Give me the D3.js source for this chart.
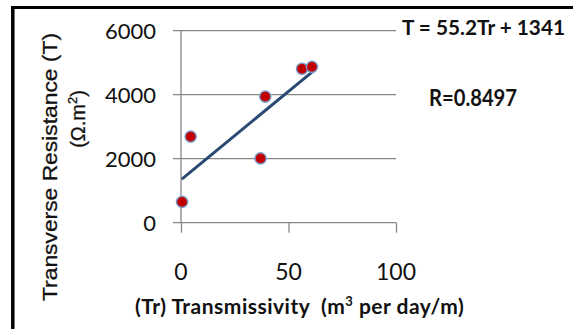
<!DOCTYPE html>
<html>
<head>
<meta charset="utf-8">
<script src="https://cdn.jsdelivr.net/npm/d3@7"></script>
<style>
  html, body { margin: 0; padding: 0; background: #fff; }
  svg { display: block; }
</style>
</head>
<body>
<svg id="chart" width="573" height="329"></svg>
<script>
// ---- data ----
const transmissivity = [0.5, 4.5, 37, 39.2, 56.3, 60.9];
const resistance = [650, 2690, 2010, 3940, 4810, 4870];
const xTicks = [0, 50, 100];
const yTicks = [0, 2000, 4000, 6000];
const slope = 55.2;
const intercept = 1341;
const equationText = "T = 55.2Tr + 1341";
const rText = "R=0.8497";

const svg = d3.select("#chart");

const x = d3.scaleLinear().domain([0, 100]).range([181, 396]);
const y = d3.scaleLinear().domain([0, 6000]).range([222.7, 30.7]);

// frame (left and top borders)
svg.append("line").attr("x1", 12.8).attr("x2", 12.8).attr("y1", 6).attr("y2", 329)
  .attr("stroke", "#000").attr("stroke-width", 3.5);
svg.append("line").attr("x1", 11).attr("x2", 573).attr("y1", 7.5).attr("y2", 7.5)
  .attr("stroke", "#000").attr("stroke-width", 3);

const gridColor = "#868686";

// horizontal gridlines (extend left as tick marks)
svg.append("g").selectAll("line").data(yTicks.filter(d => d !== 0)).join("line")
  .attr("x1", 173).attr("x2", 396)
  .attr("y1", d => y(d)).attr("y2", d => y(d))
  .attr("stroke", gridColor).attr("stroke-width", 1.3);

// x axis using d3 axis
const xAxis = d3.axisBottom(x).tickValues(xTicks).tickSize(10).tickFormat("");
const gx = svg.append("g").attr("transform", `translate(0,${y(0)})`).call(xAxis);
gx.select(".domain").remove();
gx.selectAll(".tick line").attr("stroke", gridColor).attr("stroke-width", 1.3);
svg.append("line").attr("x1", 173).attr("x2", 396).attr("y1", y(0)).attr("y2", y(0))
  .attr("stroke", gridColor).attr("stroke-width", 1.3);
// y axis line
svg.append("line").attr("x1", x(0)).attr("x2", x(0)).attr("y1", y(6000)).attr("y2", y(0))
  .attr("stroke", gridColor).attr("stroke-width", 1.3);

// y tick labels
svg.append("g").selectAll("text").data(yTicks).join("text")
  .attr("x", 156).attr("y", d => y(d) + 8)
  .attr("text-anchor", "end")
  .attr("font-family", "Lato, 'Open Sans', sans-serif")
  .attr("font-size", 22)
  .attr("fill", "#111")
  .text(d => d);

// x tick labels
svg.append("g").selectAll("text").data(xTicks).join("text")
  .attr("x", d => x(d)).attr("y", 280)
  .attr("text-anchor", "middle")
  .attr("font-family", "Lato, 'Open Sans', sans-serif")
  .attr("font-size", 23)
  .attr("fill", "#111")
  .text(d => d);

// regression line
const [xmin, xmax] = d3.extent(transmissivity);
svg.append("line")
  .attr("x1", x(xmin + 0.3)).attr("y1", y(slope * (xmin + 0.3) + intercept))
  .attr("x2", x(xmax + 0.3)).attr("y2", y(slope * (xmax + 0.3) + intercept))
  .attr("stroke", "#2A4A74").attr("stroke-width", 3).attr("stroke-linecap", "round");

// points
svg.append("g").selectAll("circle").data(transmissivity.map((t, i) => [t, resistance[i]])).join("circle")
  .attr("cx", d => x(d[0])).attr("cy", d => y(d[1]))
  .attr("r", 5.6)
  .attr("fill", "#C00000")
  .attr("stroke", "#7C9CC8").attr("stroke-width", 1.4);

// y axis title
svg.append("text")
  .attr("transform", "translate(57,167) rotate(-90)")
  .attr("text-anchor", "middle")
  .attr("font-family", "'Liberation Sans', Arial, sans-serif")
  .attr("font-size", 20)
  .attr("fill", "#111")
  .attr("stroke", "#111").attr("stroke-width", 0.3)
  .attr("textLength", 268).attr("lengthAdjust", "spacingAndGlyphs")
  .text("Transverse Resistance (T)");
const t2 = svg.append("text")
  .attr("transform", "translate(85,119) rotate(-90)")
  .attr("text-anchor", "middle")
  .attr("font-family", "'Liberation Sans', Arial, sans-serif")
  .attr("font-size", 20)
  .attr("fill", "#111")
  .attr("stroke", "#111").attr("stroke-width", 0.3);
t2.append("tspan").text("(Ω.m");
t2.append("tspan").attr("dy", -8).attr("font-size", 13).text("2");
t2.append("tspan").attr("dy", 8).text(")");

// x axis title
const xt = svg.append("text")
  .attr("x", 135).attr("y", 314)
  .attr("font-family", "Lato, 'Open Sans', sans-serif")
  .attr("font-size", 21)
  .attr("font-weight", "bold")
  .attr("letter-spacing", 0.5)
  .style("white-space", "pre")
  .attr("fill", "#111");
xt.append("tspan").text("(Tr) Transmissivity  (m");
xt.append("tspan").attr("dy", -8).attr("font-size", 13).text("3");
xt.append("tspan").attr("dy", 8).text(" per day/m)");

// equation and R
svg.append("text")
  .attr("x", 402).attr("y", 35)
  .attr("font-family", "Lato, 'Open Sans', sans-serif")
  .attr("font-size", 21).attr("font-weight", "bold").attr("fill", "#111")
  .attr("textLength", 163).attr("lengthAdjust", "spacingAndGlyphs")
  .text(equationText);
svg.append("text")
  .attr("x", 429).attr("y", 106)
  .attr("font-family", "Lato, 'Open Sans', sans-serif")
  .attr("font-size", 22).attr("font-weight", "bold").attr("fill", "#111")
  .attr("textLength", 88).attr("lengthAdjust", "spacingAndGlyphs")
  .text(rText);
</script>
</body>
</html>
